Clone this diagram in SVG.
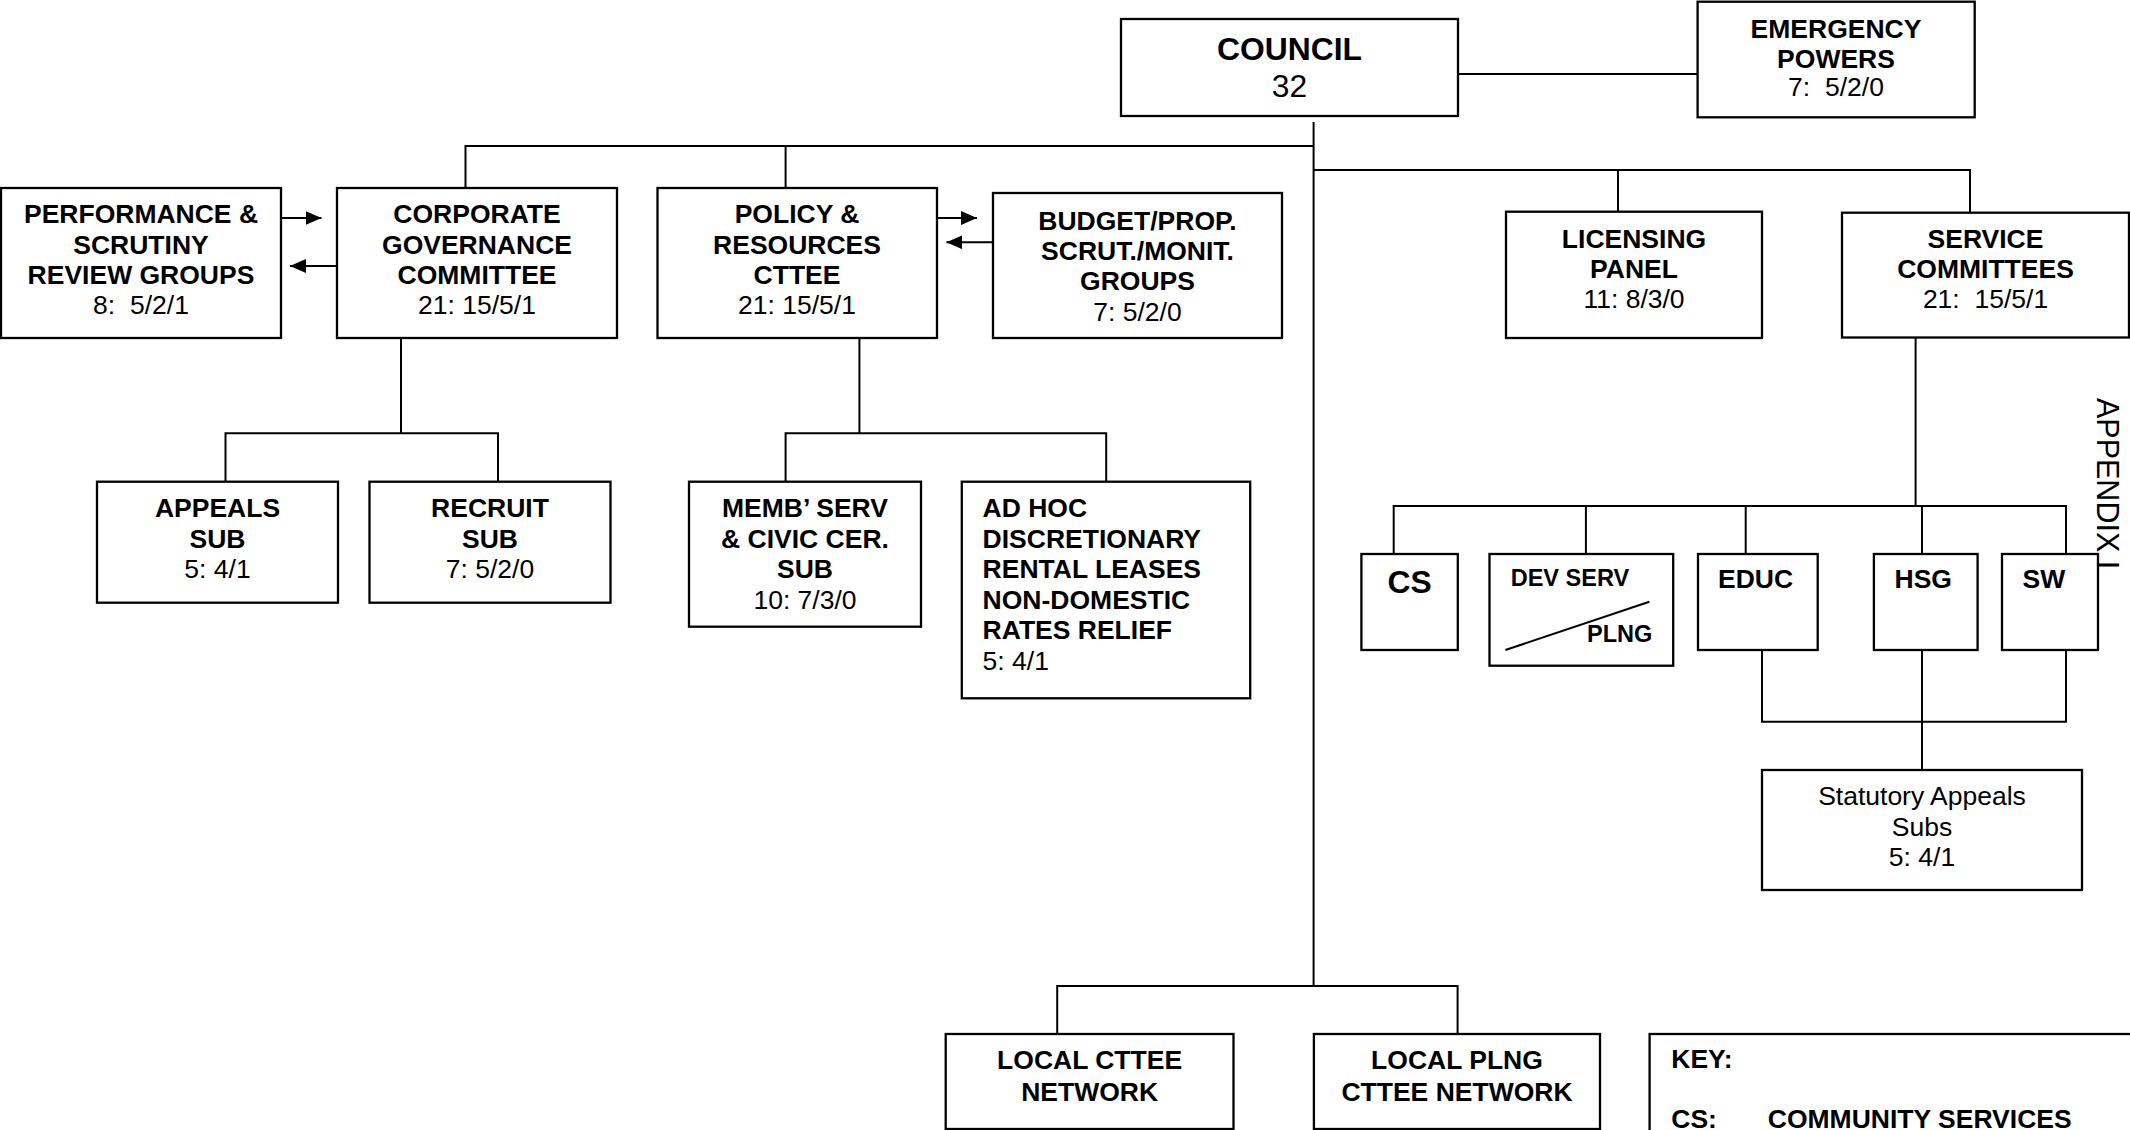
<svg xmlns="http://www.w3.org/2000/svg" width="2130" height="1130" viewBox="0 0 2130 1130">
<style>
.box{fill:#fff;stroke:#000;stroke-width:2.3}
.ln{fill:none;stroke:#000;stroke-width:2}
text{font-family:"Liberation Sans",Arial,sans-serif;font-size:26.5px;fill:#000}
.b{font-weight:bold}
.c{text-anchor:middle}
.big{font-size:31.8px}
.sm{font-size:23.5px}
</style>
<defs>
<marker id="ah" markerUnits="userSpaceOnUse" markerWidth="16" markerHeight="14" refX="16" refY="7" orient="auto">
<path d="M0,0 L16,7 L0,14 z" fill="#000"/>
</marker>
</defs>
<g id="connectors">
<line class="ln" x1="1458" y1="74" x2="1697.6" y2="74"/>
<line class="ln" x1="1313.6" y1="122" x2="1313.6" y2="986"/>
<polyline class="ln" points="465.5,188 465.5,146 1313.6,146"/>
<line class="ln" x1="785.6" y1="146" x2="785.6" y2="188"/>
<polyline class="ln" points="1313.6,170 1970,170 1970,212.7"/>
<line class="ln" x1="1618" y1="170" x2="1618" y2="211.7"/>
<line class="ln" x1="401" y1="338" x2="401" y2="433.3"/>
<polyline class="ln" points="225.5,481.7 225.5,433.3 498,433.3 498,481.7"/>
<line class="ln" x1="859.4" y1="338" x2="859.4" y2="433.3"/>
<polyline class="ln" points="785.6,481.7 785.6,433.3 1106.2,433.3 1106.2,481.7"/>
<line class="ln" x1="1915.6" y1="337.5" x2="1915.6" y2="506"/>
<polyline class="ln" points="1393.7,554 1393.7,506 2066,506 2066,554"/>
<line class="ln" x1="1585.9" y1="506" x2="1585.9" y2="554"/>
<line class="ln" x1="1745.7" y1="506" x2="1745.7" y2="554"/>
<line class="ln" x1="1922" y1="506" x2="1922" y2="554"/>
<polyline class="ln" points="1762,650 1762,721.7 2066,721.7 2066,650"/>
<line class="ln" x1="1922" y1="650" x2="1922" y2="770"/>
<polyline class="ln" points="1057.2,1034 1057.2,986 1457.6,986 1457.6,1034"/>
<line class="ln" x1="273" y1="218" x2="321.5" y2="218" marker-end="url(#ah)"/>
<line class="ln" x1="337" y1="266" x2="290" y2="266" marker-end="url(#ah)"/>
<line class="ln" x1="929.6" y1="218" x2="977" y2="218" marker-end="url(#ah)"/>
<line class="ln" x1="993" y1="242.3" x2="946.4" y2="242.3" marker-end="url(#ah)"/>
</g>
<g id="council">
<rect class="box" x="1121" y="19" width="337" height="97"/>
<text class="b c big" x="1289.5" y="60">COUNCIL</text>
<text class="c big" x="1289.5" y="96.7">32</text>
</g>
<g id="emergency">
<rect class="box" x="1697.6" y="1.7" width="277.1" height="115.6"/>
<text class="b c" x="1836" y="37.7">EMERGENCY</text>
<text class="b c" x="1836" y="67.7">POWERS</text>
<text class="c" x="1836" y="96" xml:space="preserve">7:  5/2/0</text>
</g>
<g id="performance">
<rect class="box" x="1" y="188" width="280" height="150"/>
<text class="b c" x="141" y="223">PERFORMANCE &amp;</text>
<text class="b c" x="141" y="253.5">SCRUTINY</text>
<text class="b c" x="141" y="284">REVIEW GROUPS</text>
<text class="c" x="141" y="314" xml:space="preserve">8:  5/2/1</text>
</g>
<g id="corporate">
<rect class="box" x="337" y="188" width="280" height="150"/>
<text class="b c" x="477" y="223">CORPORATE</text>
<text class="b c" x="477" y="253.5">GOVERNANCE</text>
<text class="b c" x="477" y="284">COMMITTEE</text>
<text class="c" x="477" y="314">21: 15/5/1</text>
</g>
<g id="policy">
<rect class="box" x="657.5" y="188" width="279.5" height="150"/>
<text class="b c" x="797" y="223">POLICY &amp;</text>
<text class="b c" x="797" y="253.5">RESOURCES</text>
<text class="b c" x="797" y="284">CTTEE</text>
<text class="c" x="797" y="314">21: 15/5/1</text>
</g>
<g id="budget">
<rect class="box" x="993" y="193" width="289" height="145"/>
<text class="b c" x="1137.5" y="230">BUDGET/PROP.</text>
<text class="b c" x="1137.5" y="260">SCRUT./MONIT.</text>
<text class="b c" x="1137.5" y="290">GROUPS</text>
<text class="c" x="1137.5" y="320.7">7: 5/2/0</text>
</g>
<g id="licensing">
<rect class="box" x="1506" y="211.7" width="256" height="126.3"/>
<text class="b c" x="1634" y="248.3">LICENSING</text>
<text class="b c" x="1634" y="278.3">PANEL</text>
<text class="c" x="1634" y="308.3">11: 8/3/0</text>
</g>
<g id="service">
<rect class="box" x="1842" y="212.7" width="287" height="124.8"/>
<text class="b c" x="1985.5" y="248.3">SERVICE</text>
<text class="b c" x="1985.5" y="278.3">COMMITTEES</text>
<text class="c" x="1985.5" y="308.3" xml:space="preserve">21:  15/5/1</text>
</g>
<g id="appeals">
<rect class="box" x="97" y="481.7" width="241" height="121"/>
<text class="b c" x="217.5" y="517">APPEALS</text>
<text class="b c" x="217.5" y="547.5">SUB</text>
<text class="c" x="217.5" y="578">5: 4/1</text>
</g>
<g id="recruit">
<rect class="box" x="369.5" y="481.7" width="241" height="121"/>
<text class="b c" x="490" y="517">RECRUIT</text>
<text class="b c" x="490" y="547.5">SUB</text>
<text class="c" x="490" y="578">7: 5/2/0</text>
</g>
<g id="memb">
<rect class="box" x="689" y="481.7" width="232" height="145"/>
<text class="b c" x="805" y="517">MEMB’ SERV</text>
<text class="b c" x="805" y="547.5">&amp; CIVIC CER.</text>
<text class="b c" x="805" y="578">SUB</text>
<text class="c" x="805" y="608.5">10: 7/3/0</text>
</g>
<g id="adhoc">
<rect class="box" x="961.8" y="481.7" width="288.4" height="216.6"/>
<text class="b" x="982.6" y="517">AD HOC</text>
<text class="b" x="982.6" y="547.5">DISCRETIONARY</text>
<text class="b" x="982.6" y="578">RENTAL LEASES</text>
<text class="b" x="982.6" y="608.5">NON-DOMESTIC</text>
<text class="b" x="982.6" y="639">RATES RELIEF</text>
<text x="982.6" y="669.5">5: 4/1</text>
</g>
<g id="cs">
<rect class="box" x="1361.4" y="554" width="96.4" height="96"/>
<text class="b c big" x="1409.6" y="593.3">CS</text>
</g>
<g id="devserv">
<rect class="box" x="1489.5" y="554" width="183.7" height="111.7"/>
<text class="b sm" x="1510.7" y="586">DEV SERV</text>
<line class="ln" x1="1505.4" y1="650" x2="1649.4" y2="601.7"/>
<text class="b sm" x="1587" y="641.7">PLNG</text>
</g>
<g id="educ">
<rect class="box" x="1698" y="554" width="119.7" height="96"/>
<text class="b" x="1718" y="588.3">EDUC</text>
</g>
<g id="hsg">
<rect class="box" x="1873.9" y="554" width="103.7" height="96"/>
<text class="b" x="1894.5" y="588.3">HSG</text>
</g>
<g id="sw">
<rect class="box" x="2002" y="554" width="96" height="96"/>
<text class="b" x="2022.6" y="588.3">SW</text>
</g>
<g id="statutory">
<rect class="box" x="1762" y="770" width="320" height="120"/>
<text class="c" x="1922" y="805">Statutory Appeals</text>
<text class="c" x="1922" y="835.5">Subs</text>
<text class="c" x="1922" y="866">5: 4/1</text>
</g>
<g id="localcttee">
<rect class="box" x="945.7" y="1034" width="287.8" height="95"/>
<text class="b c" x="1089.6" y="1069.3">LOCAL CTTEE</text>
<text class="b c" x="1089.6" y="1100.7">NETWORK</text>
</g>
<g id="localplng">
<rect class="box" x="1313.9" y="1034" width="286.1" height="95"/>
<text class="b c" x="1457" y="1069.3">LOCAL PLNG</text>
<text class="b c" x="1457" y="1100.7">CTTEE NETWORK</text>
</g>
<g id="key">
<rect class="box" x="1649.6" y="1034" width="520" height="200"/>
<text class="b" x="1671.3" y="1068.3">KEY:</text>
<text class="b" x="1671.3" y="1127.5">CS:</text>
<text class="b" x="1767.8" y="1127.5">COMMUNITY SERVICES</text>
</g>
<g id="appendix">
<text transform="translate(2097,398) rotate(90)" x="0" y="0" style="font-size:30.5px">APPENDIX I</text>
</g>
</svg>
